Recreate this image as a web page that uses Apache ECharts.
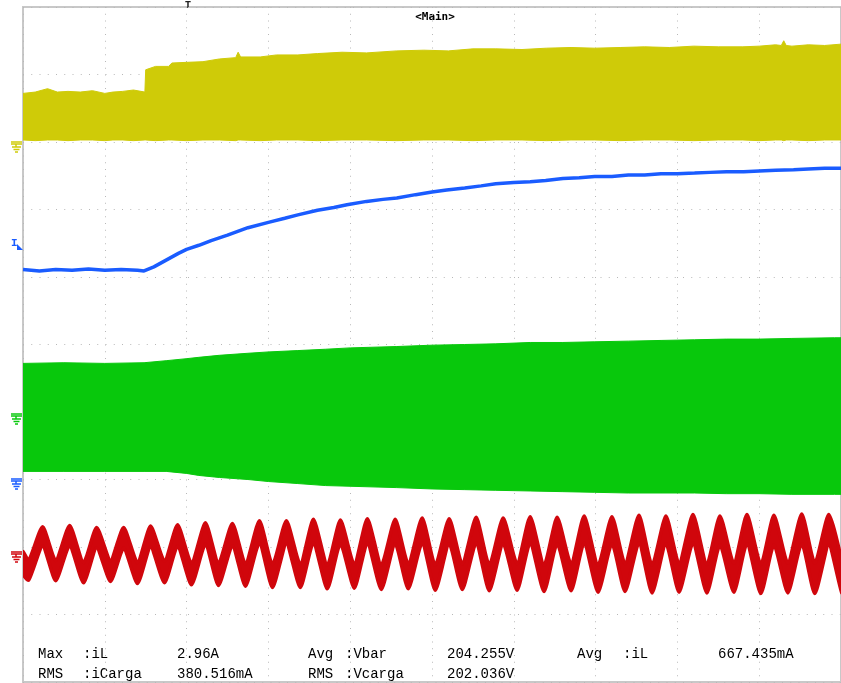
<!DOCTYPE html>
<html>
<head>
<meta charset="utf-8">
<script src="https://cdn.jsdelivr.net/npm/echarts/dist/echarts.min.js"></script>
<style>
html, body { margin: 0; padding: 0; background: #fff; }
#scope { width: 841px; height: 683px; }
</style>
</head>
<body>
<div id="scope"></div>
<script>
// time in divisions (0..10), level in divisions (0 = bottom of screen)
// CH1 Vbar (yellow band)
var vbarTime = [0, 0.15, 0.3, 0.42, 0.55, 0.7, 0.85, 1.0, 1.1, 1.22, 1.35, 1.49, 1.5, 1.62, 1.78, 1.82, 2.0, 2.2, 2.4, 2.6, 2.63, 2.66, 2.9, 3.1, 3.36, 3.6, 3.9, 4.2, 4.57, 4.9, 5.2, 5.5, 5.78, 6.1, 6.4, 6.7, 6.99, 7.3, 7.6, 7.9, 8.2, 8.5, 8.8, 9.0, 9.2, 9.27, 9.3, 9.33, 9.4, 9.6, 9.8, 10.0];
var vbarHigh = [8.72, 8.74, 8.79, 8.74, 8.75, 8.74, 8.76, 8.72, 8.74, 8.75, 8.77, 8.74, 9.07, 9.12, 9.12, 9.17, 9.18, 9.19, 9.23, 9.25, 9.33, 9.26, 9.26, 9.29, 9.29, 9.31, 9.33, 9.32, 9.35, 9.36, 9.35, 9.38, 9.38, 9.37, 9.39, 9.40, 9.39, 9.40, 9.41, 9.40, 9.42, 9.41, 9.41, 9.42, 9.44, 9.43, 9.50, 9.43, 9.42, 9.44, 9.43, 9.45];
var vbarLow = [8.03, 8.02, 8.03, 8.03, 8.02, 8.03, 8.03, 8.02, 8.03, 8.03, 8.02, 8.03, 8.03, 8.02, 8.03, 8.03, 8.02, 8.03, 8.03, 8.02, 8.03, 8.03, 8.02, 8.03, 8.03, 8.02, 8.03, 8.03, 8.02, 8.03, 8.03, 8.02, 8.03, 8.03, 8.02, 8.03, 8.03, 8.02, 8.03, 8.03, 8.02, 8.03, 8.03, 8.02, 8.03, 8.03, 8.02, 8.03, 8.03, 8.02, 8.03, 8.03];

// CH2 iL (blue line)
var iLTime = [0, 0.2, 0.4, 0.6, 0.8, 1.0, 1.2, 1.4, 1.48, 1.6, 1.75, 1.9, 2.0, 2.15, 2.3, 2.5, 2.75, 3.0, 3.2, 3.36, 3.6, 3.8, 3.96, 4.2, 4.4, 4.57, 4.8, 5.0, 5.18, 5.4, 5.6, 5.78, 6.0, 6.2, 6.39, 6.6, 6.8, 6.99, 7.2, 7.4, 7.6, 7.8, 8.0, 8.21, 8.4, 8.6, 8.81, 9.0, 9.2, 9.42, 9.6, 9.8, 10.0];
var iLLevel = [6.11, 6.09, 6.11, 6.10, 6.12, 6.10, 6.11, 6.10, 6.09, 6.15, 6.25, 6.35, 6.41, 6.47, 6.54, 6.62, 6.73, 6.81, 6.87, 6.92, 6.99, 7.03, 7.07, 7.12, 7.15, 7.17, 7.22, 7.26, 7.29, 7.32, 7.35, 7.38, 7.40, 7.41, 7.43, 7.46, 7.47, 7.49, 7.49, 7.51, 7.51, 7.53, 7.53, 7.54, 7.55, 7.56, 7.56, 7.57, 7.58, 7.59, 7.60, 7.61, 7.61];

// CH3 (green band)
var greenTime = [0, 0.5, 1.0, 1.48, 1.75, 2.0, 2.15, 2.4, 2.75, 3.0, 3.36, 3.7, 4.0, 4.57, 5.0, 5.4, 5.78, 6.2, 6.6, 6.99, 7.4, 7.8, 8.21, 8.6, 9.0, 9.4, 9.92, 10.0];
var greenHigh = [4.72, 4.73, 4.72, 4.73, 4.76, 4.79, 4.81, 4.84, 4.87, 4.89, 4.91, 4.93, 4.95, 4.97, 4.99, 5.00, 5.01, 5.03, 5.03, 5.04, 5.05, 5.06, 5.07, 5.08, 5.08, 5.09, 5.10, 5.10];
var greenLow = [3.12, 3.12, 3.12, 3.12, 3.12, 3.09, 3.06, 3.03, 3.00, 2.97, 2.94, 2.91, 2.90, 2.88, 2.86, 2.85, 2.84, 2.83, 2.82, 2.81, 2.80, 2.80, 2.80, 2.79, 2.79, 2.78, 2.78, 2.78];

// CH4 iCarga (red, peaks and troughs of the ripple band)
var iCargaTime = [0, 0.07, 0.24, 0.40, 0.57, 0.74, 0.90, 1.07, 1.23, 1.40, 1.56, 1.73, 1.89, 2.06, 2.23, 2.39, 2.56, 2.72, 2.89, 3.05, 3.22, 3.39, 3.55, 3.72, 3.88, 4.05, 4.21, 4.38, 4.55, 4.71, 4.88, 5.04, 5.21, 5.37, 5.54, 5.70, 5.87, 6.04, 6.20, 6.37, 6.53, 6.70, 6.86, 7.03, 7.20, 7.36, 7.53, 7.69, 7.86, 8.02, 8.19, 8.36, 8.52, 8.69, 8.85, 9.02, 9.18, 9.35, 9.52, 9.68, 9.85, 10.01];
var iCargaHigh = [1.93, 1.80, 2.30, 1.80, 2.32, 1.77, 2.29, 1.80, 2.29, 1.77, 2.31, 1.79, 2.33, 1.76, 2.36, 1.76, 2.35, 1.75, 2.39, 1.74, 2.39, 1.74, 2.41, 1.73, 2.40, 1.74, 2.42, 1.73, 2.41, 1.75, 2.43, 1.73, 2.42, 1.75, 2.44, 1.73, 2.43, 1.75, 2.45, 1.73, 2.44, 1.75, 2.46, 1.73, 2.45, 1.75, 2.47, 1.73, 2.46, 1.75, 2.48, 1.74, 2.46, 1.76, 2.48, 1.74, 2.47, 1.76, 2.49, 1.76, 2.48, 1.77];
var iCargaLow = [1.60, 1.51, 2.01, 1.50, 2.02, 1.47, 1.99, 1.49, 1.98, 1.46, 2.00, 1.47, 2.01, 1.44, 2.04, 1.43, 2.02, 1.42, 2.06, 1.40, 2.05, 1.40, 2.06, 1.38, 2.05, 1.39, 2.06, 1.37, 2.05, 1.38, 2.06, 1.36, 2.05, 1.37, 2.06, 1.35, 2.05, 1.36, 2.06, 1.34, 2.05, 1.35, 2.06, 1.33, 2.05, 1.34, 2.06, 1.32, 2.05, 1.33, 2.06, 1.32, 2.03, 1.33, 2.05, 1.31, 2.03, 1.32, 2.05, 1.31, 2.03, 1.32];

// measurement readout
var measRows = [
    ['Max', ':iL', '2.96A', 'Avg', ':Vbar', '204.255V', 'Avg', ':iL', '667.435mA'],
    ['RMS', ':iCarga', '380.516mA', 'RMS', ':Vcarga', '202.036V']
];
var measCols = [38, 83, 177, 308, 345, 447, 577, 623, 718];

var YELLOW = '#cfcb08', BLUE = '#1a5cff', GREEN = '#08c80c', RED = '#d0060c';

// filled band between low and high envelopes, drawn once through the axes
function bandSeries(time, low, high, color, smooth, edge) {
    return {
        type: 'custom', clip: true, silent: true,
        data: time.map(function (t, i) { return [t, low[i], high[i]]; }),
        encode: {x: 0, y: [1, 2]},
        renderItem: function (params, api) {
            if (params.dataIndex !== 0) return null;
            var pts = [];
            for (var i = 0; i < time.length; i++) pts.push(api.coord([time[i], high[i]]));
            for (var j = time.length - 1; j >= 0; j--) pts.push(api.coord([time[j], low[j]]));
            return {
                type: 'polygon',
                shape: {points: pts, smooth: smooth},
                style: {fill: color, stroke: color, lineWidth: edge, lineJoin: 'round'}
            };
        }
    };
}

// channel ground marker on the left edge
function groundMark(y, color) {
    var s = {stroke: color, lineWidth: 1.5};
    return {type: 'group', silent: true, children: [
        {type: 'line', shape: {x1: 11, y1: y, x2: 22, y2: y}, style: s},
        {type: 'line', shape: {x1: 11, y1: y + 2, x2: 22, y2: y + 2}, style: s},
        {type: 'line', shape: {x1: 16, y1: y + 2, x2: 16, y2: y + 5}, style: s},
        {type: 'line', shape: {x1: 12, y1: y + 5, x2: 21, y2: y + 5}, style: s},
        {type: 'line', shape: {x1: 13.5, y1: y + 7.5, x2: 19.5, y2: y + 7.5}, style: s},
        {type: 'line', shape: {x1: 15, y1: y + 10, x2: 18, y2: y + 10}, style: s}
    ]};
}

var graphics = [
    groundMark(142, YELLOW),
    groundMark(414, GREEN),
    groundMark(479, BLUE),
    groundMark(552, RED),
    {type: 'text', left: 11, top: 238, silent: true,
        style: {text: 'I', fill: BLUE, font: 'bold 11px "Liberation Mono"'}},
    {type: 'polygon', silent: true, shape: {points: [[17, 244], [23, 250], [17, 250]]}, style: {fill: BLUE}},
    {type: 'text', x: 188, y: 6, silent: true,
        style: {text: 'T', fill: '#222', font: 'bold 8px "DejaVu Sans"', align: 'center', verticalAlign: 'middle'}},
    {type: 'text', x: 435, y: 17, silent: true,
        style: {text: '<Main>', fill: '#000', font: 'bold 11px "DejaVu Sans Mono"', align: 'center', verticalAlign: 'middle'}}
];
measRows.forEach(function (row, r) {
    row.forEach(function (txt, c) {
        graphics.push({type: 'text', x: measCols[c], y: 654 + r * 20, silent: true,
            style: {text: txt, fill: '#000', font: '14px "Liberation Mono"', verticalAlign: 'middle'}});
    });
});

var series = [
    bandSeries(vbarTime, vbarLow, vbarHigh, YELLOW, 0, 1),
    {
        type: 'line', data: iLTime.map(function (t, i) { return [t, iLLevel[i]]; }),
        symbol: 'none', silent: true, lineStyle: {color: BLUE, width: 3.5}
    },
    bandSeries(greenTime, greenLow, greenHigh, GREEN, 0, 1),
    bandSeries(iCargaTime, iCargaLow, iCargaHigh, RED, 0.2, 3.5)
];

var myChart = echarts.init(document.getElementById('scope'));
var option = {
    animation: false,
    backgroundColor: '#fff',
    grid: {left: 23, top: 7, width: 825, height: 675, show: true, borderColor: '#c8c8c8', borderWidth: 2},
    xAxis: {
        type: 'value', min: 0, max: 10, interval: 1,
        axisLine: {show: false}, axisTick: {show: false}, axisLabel: {show: false},
        splitLine: {show: true, lineStyle: {color: '#b8b8b8', width: 1, type: [1, 5.75]}}
    },
    yAxis: {
        type: 'value', min: 0, max: 10, interval: 1,
        axisLine: {show: false}, axisTick: {show: false}, axisLabel: {show: false},
        splitLine: {show: true, lineStyle: {color: '#b8b8b8', width: 1, type: [1, 7.25]}}
    },
    series: series,
    graphic: graphics
};
myChart.setOption(option);
</script>
</body>
</html>
